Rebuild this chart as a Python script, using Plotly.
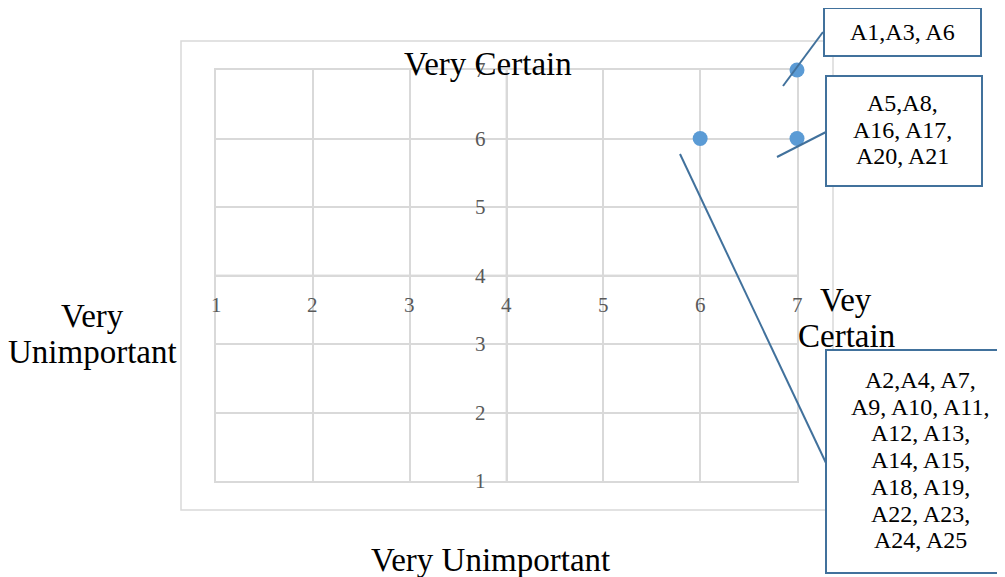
import plotly.graph_objects as go

# ---- data ----
x_vals = [7, 7, 6]
y_vals = [7, 6, 6]
x_ticks = [1, 2, 3, 4, 5, 6, 7]
y_ticks = [1, 2, 3, 4, 5, 6, 7]
callout_1 = ["A1,A3, A6"]
callout_2 = ["A5,A8,", "A16, A17,", "A20, A21"]
callout_3 = ["A2,A4, A7,", "A9, A10, A11,", "A12, A13,", "A14, A15,",
             "A18, A19,", "A22, A23,", "A24, A25"]
title_top = "Very Certain"
title_bottom = "Very Unimportant"
title_left = ["Very", "Unimportant"]
title_right = ["Vey", "Certain"]

# ---- layout geometry (page pixels) ----
OFF = 8                      # default body margin of the html page
W, H = 1005 - OFF, 577 - OFF  # figure size
L, R, T, B = 216, 797, 70, 481  # plot area in page pixels


def px(x):
    return (x - L) / (R - L)


def py(y):
    return (B - y) / (B - T)


FONT = "Liberation Serif"
BLUE = "#41719c"
GRID = "#d9d9d9"

fig = go.Figure()
fig.add_trace(go.Scatter(
    x=x_vals, y=y_vals, mode="markers",
    marker=dict(size=15, color="#5b9bd5"),
    cliponaxis=False, showlegend=False, hoverinfo="x+y"))

shapes = []
# outer chart border
shapes.append(dict(type="rect", xref="paper", yref="paper",
                   x0=px(181), x1=px(833), y0=py(510), y1=py(41),
                   line=dict(color=GRID, width=1.5), layer="below"))
# crossing axes at 4
shapes.append(dict(type="line", xref="x", yref="paper", x0=4, x1=4, y0=0, y1=1,
                   line=dict(color="#bfbfbf", width=1.5), layer="below"))
shapes.append(dict(type="line", xref="paper", yref="y", x0=0, x1=1, y0=4, y1=4,
                   line=dict(color="#bfbfbf", width=1.5), layer="below"))

# callout leader lines
for (x0, y0, x1, y1) in [(823, 32, 783, 86), (826, 132, 777, 157), (826, 463, 680, 154)]:
    shapes.append(dict(type="line", xref="paper", yref="paper",
                       x0=px(x0), y0=py(y0), x1=px(x1), y1=py(y1),
                       line=dict(color=BLUE, width=2)))
# callout boxes
for (x0, y0, x1, y1) in [(824, 8, 981, 56), (826, 76, 982, 186), (826, 350, 1003, 573)]:
    shapes.append(dict(type="rect", xref="paper", yref="paper",
                       x0=px(x0), y0=py(y0), x1=px(x1), y1=py(y1),
                       line=dict(color=BLUE, width=2), fillcolor="white"))

ann = []
tick_font = dict(family=FONT, size=21, color="#595959")
for t in x_ticks:
    ann.append(dict(x=t, y=4, xref="x", yref="y", text=str(t), showarrow=False,
                    xanchor="center", yanchor="middle", yshift=-29, font=tick_font))
for t in y_ticks:
    ann.append(dict(x=4, y=t, xref="x", yref="y", text=str(t), showarrow=False,
                    xanchor="center", yanchor="middle", xshift=-26, font=tick_font))

big = dict(family=FONT, size=33, color="black")


def label(text, x, y, font):
    ann.append(dict(x=px(x), y=py(y), xref="paper", yref="paper", text=text,
                    showarrow=False, xanchor="center", yanchor="middle", font=font))


label(title_top, 487.5, 64, big)
label(title_bottom, 490.5, 560, big)
for i, t in enumerate(title_left):
    label(t, 92, 316 + 36 * i, big)
for i, t in enumerate(title_right):
    label(t, 846, 300 + 36 * i, big)

small = dict(family=FONT, size=24, color="black")
for i, t in enumerate(callout_1):
    label(t, 902, 32 + 26.7 * i, small)
for i, t in enumerate(callout_2):
    label(t, 903, 103 + 26.7 * i, small)
for i, t in enumerate(callout_3):
    label(t, 920, 380 + 26.7 * i, small)

axis_common = dict(range=[1, 7], dtick=1, showgrid=True, gridcolor=GRID, gridwidth=1.5,
                   zeroline=False, showticklabels=False, showline=True, mirror=True,
                   linecolor=GRID, linewidth=1.5, fixedrange=True, layer="below traces")

fig.update_layout(
    width=W, height=H,
    margin=dict(l=L - OFF, r=OFF + W - R, t=T - OFF, b=OFF + H - B, pad=0),
    paper_bgcolor="white", plot_bgcolor="white",
    xaxis=axis_common, yaxis=axis_common,
    shapes=shapes, annotations=ann, showlegend=False,
)

fig.write_html("out.html")
